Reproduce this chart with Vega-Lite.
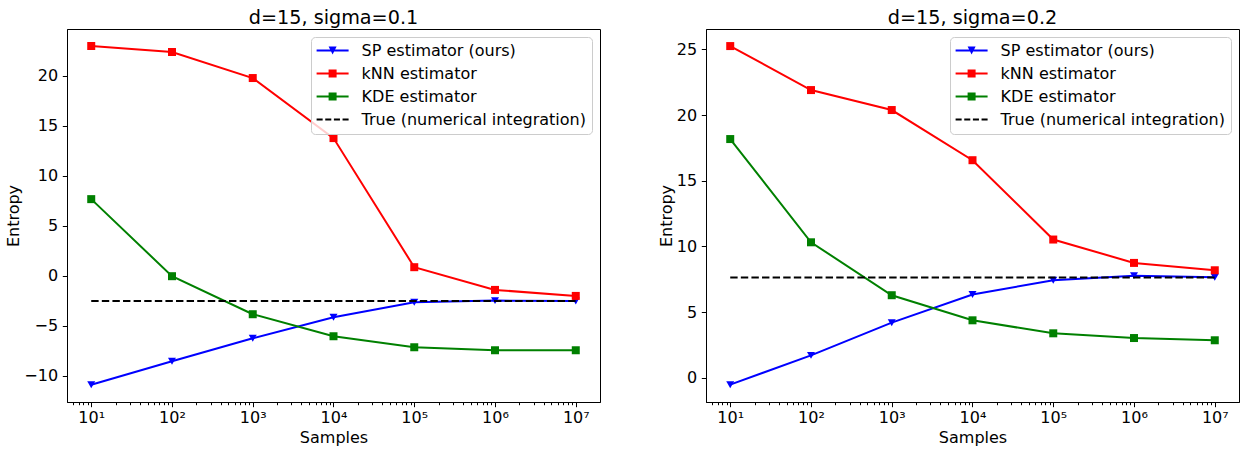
{
  "$schema": "https://vega.github.io/schema/vega-lite/v6.json",
  "padding": {"left": 5, "top": 8, "right": 5, "bottom": 5},
  "background": "white",
  "bounds": "flush",
  "spacing": 106,
  "datasets": {
    "left": [
      {"s": "SP estimator (ours)", "n": 10, "v": -10.87},
      {"s": "SP estimator (ours)", "n": 100, "v": -8.53},
      {"s": "SP estimator (ours)", "n": 1000, "v": -6.23},
      {"s": "SP estimator (ours)", "n": 10000, "v": -4.13},
      {"s": "SP estimator (ours)", "n": 100000, "v": -2.63},
      {"s": "SP estimator (ours)", "n": 1000000, "v": -2.47},
      {"s": "SP estimator (ours)", "n": 10000000, "v": -2.5},
      {"s": "kNN estimator", "n": 10, "v": 22.97},
      {"s": "kNN estimator", "n": 100, "v": 22.37},
      {"s": "kNN estimator", "n": 1000, "v": 19.77},
      {"s": "kNN estimator", "n": 10000, "v": 13.77},
      {"s": "kNN estimator", "n": 100000, "v": 0.87},
      {"s": "kNN estimator", "n": 1000000, "v": -1.4},
      {"s": "kNN estimator", "n": 10000000, "v": -2.0},
      {"s": "KDE estimator", "n": 10, "v": 7.67},
      {"s": "KDE estimator", "n": 100, "v": -0.03},
      {"s": "KDE estimator", "n": 1000, "v": -3.83},
      {"s": "KDE estimator", "n": 10000, "v": -6.03},
      {"s": "KDE estimator", "n": 100000, "v": -7.13},
      {"s": "KDE estimator", "n": 1000000, "v": -7.43},
      {"s": "KDE estimator", "n": 10000000, "v": -7.43},
      {"s": "True (numerical integration)", "n": 10, "v": -2.5},
      {"s": "True (numerical integration)", "n": 10000000, "v": -2.5}
    ],
    "right": [
      {"s": "SP estimator (ours)", "n": 10, "v": -0.53},
      {"s": "SP estimator (ours)", "n": 100, "v": 1.7},
      {"s": "SP estimator (ours)", "n": 1000, "v": 4.19},
      {"s": "SP estimator (ours)", "n": 10000, "v": 6.33},
      {"s": "SP estimator (ours)", "n": 100000, "v": 7.42},
      {"s": "SP estimator (ours)", "n": 1000000, "v": 7.77},
      {"s": "SP estimator (ours)", "n": 10000000, "v": 7.65},
      {"s": "kNN estimator", "n": 10, "v": 25.25},
      {"s": "kNN estimator", "n": 100, "v": 21.9},
      {"s": "kNN estimator", "n": 1000, "v": 20.38},
      {"s": "kNN estimator", "n": 10000, "v": 16.56},
      {"s": "kNN estimator", "n": 100000, "v": 10.52},
      {"s": "kNN estimator", "n": 1000000, "v": 8.74},
      {"s": "kNN estimator", "n": 10000000, "v": 8.18},
      {"s": "KDE estimator", "n": 10, "v": 18.17},
      {"s": "KDE estimator", "n": 100, "v": 10.31},
      {"s": "KDE estimator", "n": 1000, "v": 6.28},
      {"s": "KDE estimator", "n": 10000, "v": 4.37},
      {"s": "KDE estimator", "n": 100000, "v": 3.38},
      {"s": "KDE estimator", "n": 1000000, "v": 3.02},
      {"s": "KDE estimator", "n": 10000000, "v": 2.85},
      {"s": "True (numerical integration)", "n": 10, "v": 7.62},
      {"s": "True (numerical integration)", "n": 10000000, "v": 7.62}
    ]
  },
  "config": {
    "font": "DejaVu Sans",
    "view": {"stroke": "#000000", "strokeWidth": 1},
    "axis": {
      "grid": false, "domainColor": "#000000", "domainWidth": 1,
      "tickColor": "#000000", "tickWidth": 1, "tickSize": 4.7,
      "labelFont": "DejaVu Sans", "labelFontSize": 16, "labelColor": "#000000", "labelPadding": 4.7,
      "titleFont": "DejaVu Sans", "titleFontSize": 16, "titleFontWeight": "normal", "titleColor": "#000000"
    },
    "legend": {
      "orient": "top-right", "offset": 8, "title": null, "labelLimit": 500,
      "labelFont": "DejaVu Sans", "labelFontSize": 16, "labelColor": "#000000",
      "fillColor": "rgba(255,255,255,0.8)", "strokeColor": "#cccccc", "cornerRadius": 4,
      "padding": 5.6, "rowPadding": 7, "symbolOffset": 8, "labelOffset": 21,
      "symbolSize": 256, "symbolStrokeWidth": 0, "symbolOpacity": 1
    }
  },
  "resolve": {
    "scale": {"x": "independent", "y": "independent", "color": "independent", "shape": "independent"},
    "legend": {"color": "independent", "shape": "independent"}
  },
  "hconcat": [
    {
      "width": 533, "height": 373,
      "title": {"text": "d=15, sigma=0.1", "font": "DejaVu Sans", "fontSize": 19.2, "fontWeight": "normal", "color": "#000000", "offset": 1},
      "data": {"name": "left"},
      "resolve": {"axis": {"x": "independent", "y": "independent"}},
      "encoding": {
        "x": {"field": "n", "type": "quantitative", "axis": null, "scale": {"type": "log", "domain": [5.0119, 19952623], "nice": false}},
        "y": {"field": "v", "type": "quantitative", "axis": null, "scale": {"domain": [-12.6, 24.67], "nice": false, "zero": false}}
      },
      "layer": [
        {
          "transform": [{"filter": "datum.s === 'SP estimator (ours)'"}],
          "mark": {"type": "line", "strokeWidth": 2, "color": "#0000ff"},
          "encoding": {
            "x": {"field": "n", "type": "quantitative",
              "axis": {"orient": "bottom", "values": [10, 100, 1000, 10000, 100000, 1000000, 10000000],
                "labelExpr": "'10' + ['¹','²','³','⁴','⁵','⁶','⁷'][round(log(datum.value)/LN10)-1]",
                "labelFlush": false, "labelOverlap": false, "labelPadding": 3, "title": "Samples", "titlePadding": 4}},
            "y": {"field": "v", "type": "quantitative",
              "axis": {"orient": "left", "values": [-10, -5, 0, 5, 10, 15, 20], "title": "Entropy", "titlePadding": 2, "labelFlush": false}}
          }
        },
        {
          "transform": [{"filter": "datum.s === 'kNN estimator'"}],
          "mark": {"type": "line", "strokeWidth": 2, "color": "#ff0000"}
        },
        {
          "transform": [{"filter": "datum.s === 'KDE estimator'"}],
          "mark": {"type": "line", "strokeWidth": 2, "color": "#008000"}
        },
        {
          "transform": [{"filter": "datum.s === 'SP estimator (ours)'"}],
          "mark": {"type": "point", "shape": "triangle-down", "filled": true, "opacity": 1, "size": 64, "strokeWidth": 0, "color": "#0000ff"}
        },
        {
          "transform": [{"filter": "datum.s === 'kNN estimator'"}],
          "mark": {"type": "point", "shape": "square", "filled": true, "opacity": 1, "size": 64, "strokeWidth": 0, "color": "#ff0000"}
        },
        {
          "transform": [{"filter": "datum.s === 'KDE estimator'"}],
          "mark": {"type": "point", "shape": "square", "filled": true, "opacity": 1, "size": 64, "strokeWidth": 0, "color": "#008000"}
        },
        {
          "transform": [{"filter": "datum.s === 'True (numerical integration)'"}],
          "mark": {"type": "line", "strokeWidth": 2, "strokeDash": [7.4, 3.2], "color": "#000000"},
          "encoding": {
            "x": {"field": "n", "type": "quantitative",
              "axis": {"orient": "bottom", "values": [6, 7, 8, 9, 20, 30, 40, 50, 60, 70, 80, 90, 200, 300, 400, 500, 600, 700, 800, 900, 2000, 3000, 4000, 5000, 6000, 7000, 8000, 9000, 20000, 30000, 40000, 50000, 60000, 70000, 80000, 90000, 200000, 300000, 400000, 500000, 600000, 700000, 800000, 900000, 2000000, 3000000, 4000000, 5000000, 6000000, 7000000, 8000000, 9000000],
                "labels": false, "domain": false, "title": null, "tickSize": 2.7}}
          }
        },
        {
          "transform": [{"filter": "false"}],
          "mark": {"type": "point", "filled": true, "opacity": 1, "size": 256, "strokeWidth": 0},
          "encoding": {
            "color": {"field": "s", "type": "nominal",
              "scale": {"domain": ["SP estimator (ours)", "kNN estimator", "KDE estimator", "True (numerical integration)"], "range": ["#0000ff", "#ff0000", "#008000", "#000000"]}},
            "shape": {"field": "s", "type": "nominal",
              "scale": {"domain": ["SP estimator (ours)", "kNN estimator", "KDE estimator", "True (numerical integration)"],
                "range": [
                  "M-2,-0.125H2V0.125H-2Z M-0.5,-0.5H0.5L0,0.5Z",
                  "M-2,-0.125H2V0.125H-2Z M-0.5,-0.5H0.5V0.5H-0.5Z",
                  "M-2,-0.125H2V0.125H-2Z M-0.5,-0.5H0.5V0.5H-0.5Z",
                  "M-2,-0.125H-1.244V0.125H-2Z M-0.919,-0.125H-0.163V0.125H-0.919Z M0.163,-0.125H0.919V0.125H0.163Z M1.244,-0.125H2V0.125H1.244Z"
                ]}}
          }
        }
      ]
    },
    {
      "width": 533, "height": 373,
      "title": {"text": "d=15, sigma=0.2", "font": "DejaVu Sans", "fontSize": 19.2, "fontWeight": "normal", "color": "#000000", "offset": 1},
      "data": {"name": "right"},
      "resolve": {"axis": {"x": "independent", "y": "independent"}},
      "encoding": {
        "x": {"field": "n", "type": "quantitative", "axis": null, "scale": {"type": "log", "domain": [5.0119, 19952623], "nice": false}},
        "y": {"field": "v", "type": "quantitative", "axis": null, "scale": {"domain": [-1.85, 26.55], "nice": false, "zero": false}}
      },
      "layer": [
        {
          "transform": [{"filter": "datum.s === 'SP estimator (ours)'"}],
          "mark": {"type": "line", "strokeWidth": 2, "color": "#0000ff"},
          "encoding": {
            "x": {"field": "n", "type": "quantitative",
              "axis": {"orient": "bottom", "values": [10, 100, 1000, 10000, 100000, 1000000, 10000000],
                "labelExpr": "'10' + ['¹','²','³','⁴','⁵','⁶','⁷'][round(log(datum.value)/LN10)-1]",
                "labelFlush": false, "labelOverlap": false, "labelPadding": 3, "title": "Samples", "titlePadding": 4}},
            "y": {"field": "v", "type": "quantitative",
              "axis": {"orient": "left", "values": [0, 5, 10, 15, 20, 25], "title": "Entropy", "titlePadding": 2, "labelFlush": false}}
          }
        },
        {
          "transform": [{"filter": "datum.s === 'kNN estimator'"}],
          "mark": {"type": "line", "strokeWidth": 2, "color": "#ff0000"}
        },
        {
          "transform": [{"filter": "datum.s === 'KDE estimator'"}],
          "mark": {"type": "line", "strokeWidth": 2, "color": "#008000"}
        },
        {
          "transform": [{"filter": "datum.s === 'SP estimator (ours)'"}],
          "mark": {"type": "point", "shape": "triangle-down", "filled": true, "opacity": 1, "size": 64, "strokeWidth": 0, "color": "#0000ff"}
        },
        {
          "transform": [{"filter": "datum.s === 'kNN estimator'"}],
          "mark": {"type": "point", "shape": "square", "filled": true, "opacity": 1, "size": 64, "strokeWidth": 0, "color": "#ff0000"}
        },
        {
          "transform": [{"filter": "datum.s === 'KDE estimator'"}],
          "mark": {"type": "point", "shape": "square", "filled": true, "opacity": 1, "size": 64, "strokeWidth": 0, "color": "#008000"}
        },
        {
          "transform": [{"filter": "datum.s === 'True (numerical integration)'"}],
          "mark": {"type": "line", "strokeWidth": 2, "strokeDash": [7.4, 3.2], "color": "#000000"},
          "encoding": {
            "x": {"field": "n", "type": "quantitative",
              "axis": {"orient": "bottom", "values": [6, 7, 8, 9, 20, 30, 40, 50, 60, 70, 80, 90, 200, 300, 400, 500, 600, 700, 800, 900, 2000, 3000, 4000, 5000, 6000, 7000, 8000, 9000, 20000, 30000, 40000, 50000, 60000, 70000, 80000, 90000, 200000, 300000, 400000, 500000, 600000, 700000, 800000, 900000, 2000000, 3000000, 4000000, 5000000, 6000000, 7000000, 8000000, 9000000],
                "labels": false, "domain": false, "title": null, "tickSize": 2.7}}
          }
        },
        {
          "transform": [{"filter": "false"}],
          "mark": {"type": "point", "filled": true, "opacity": 1, "size": 256, "strokeWidth": 0},
          "encoding": {
            "color": {"field": "s", "type": "nominal",
              "scale": {"domain": ["SP estimator (ours)", "kNN estimator", "KDE estimator", "True (numerical integration)"], "range": ["#0000ff", "#ff0000", "#008000", "#000000"]}},
            "shape": {"field": "s", "type": "nominal",
              "scale": {"domain": ["SP estimator (ours)", "kNN estimator", "KDE estimator", "True (numerical integration)"],
                "range": [
                  "M-2,-0.125H2V0.125H-2Z M-0.5,-0.5H0.5L0,0.5Z",
                  "M-2,-0.125H2V0.125H-2Z M-0.5,-0.5H0.5V0.5H-0.5Z",
                  "M-2,-0.125H2V0.125H-2Z M-0.5,-0.5H0.5V0.5H-0.5Z",
                  "M-2,-0.125H-1.244V0.125H-2Z M-0.919,-0.125H-0.163V0.125H-0.919Z M0.163,-0.125H0.919V0.125H0.163Z M1.244,-0.125H2V0.125H1.244Z"
                ]}}
          }
        }
      ]
    }
  ]
}
